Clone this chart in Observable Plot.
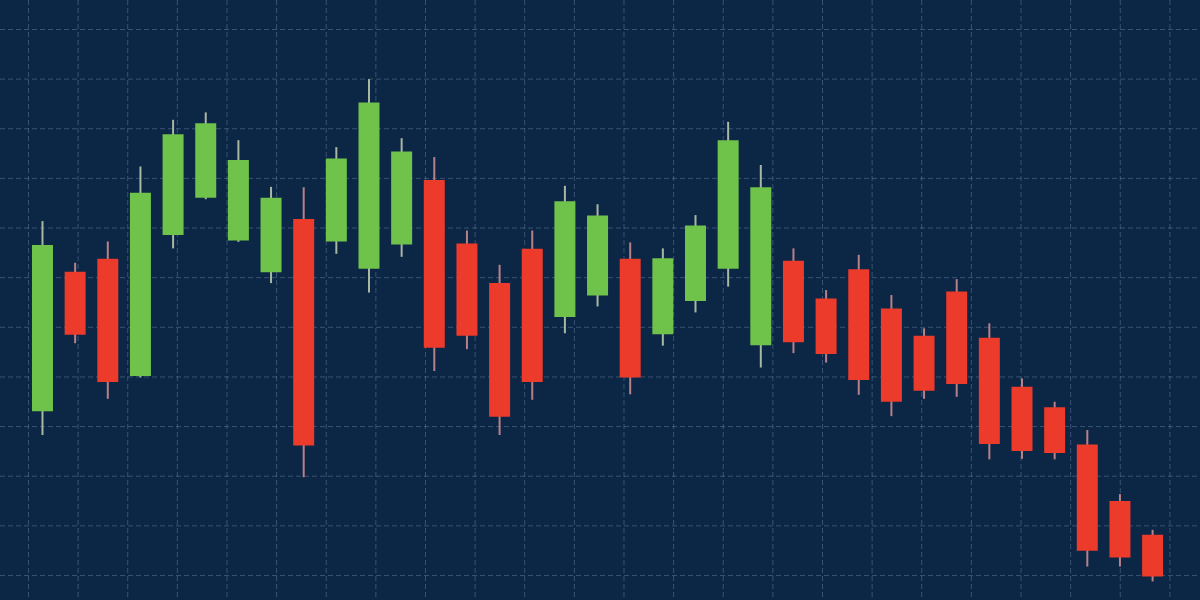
<!DOCTYPE html>
<html>
<head>
<meta charset="utf-8">
<script src="https://cdn.jsdelivr.net/npm/d3@7"></script>
<script src="https://cdn.jsdelivr.net/npm/@observablehq/plot@0.6"></script>
<style>
  html, body { margin: 0; padding: 0; background: #0c2646; overflow: hidden; }
  #chart svg { display: block; }
</style>
</head>
<body>
<div id="chart"></div>
<script>
// Candle values (arbitrary price units)
const openPrices  = [43.0, 71.1, 73.7, 50.1, 78.5, 86.0, 77.4, 71.0, 81.7, 77.2, 71.7, 76.6, 89.6, 76.8, 68.8, 75.7, 62.0, 66.3, 73.7, 58.5, 65.2, 71.7, 56.3, 73.3, 65.7, 71.6, 63.7, 58.2, 67.1, 57.8, 47.9, 43.8, 36.3, 24.9, 18.1];
const closePrices = [76.5, 58.4, 48.9, 87.0, 98.8, 101.0, 93.6, 86.0, 36.1, 93.9, 105.2, 95.3, 55.8, 58.2, 41.9, 48.9, 85.3, 82.4, 49.8, 73.8, 80.4, 97.6, 88.1, 56.9, 54.5, 49.3, 44.9, 47.1, 48.5, 36.4, 35.0, 34.6, 14.9, 13.5, 9.7];
const highPrices  = [81.3, 72.9, 77.2, 92.3, 101.7, 103.2, 97.6, 88.2, 88.1, 96.2, 109.9, 98.0, 94.2, 79.4, 72.5, 79.4, 88.4, 84.7, 77.0, 75.8, 82.5, 101.3, 92.6, 75.8, 67.4, 74.5, 66.4, 59.7, 69.6, 60.7, 49.6, 44.9, 39.2, 26.3, 19.1];
const lowPrices   = [38.2, 56.7, 45.5, 49.8, 75.8, 85.7, 77.1, 68.8, 29.7, 74.7, 66.9, 74.1, 51.1, 55.5, 38.2, 45.3, 58.7, 64.1, 46.4, 56.2, 62.9, 68.1, 51.8, 54.7, 52.8, 46.3, 42.0, 45.5, 45.9, 33.3, 33.4, 33.3, 11.7, 11.7, 8.7];

// Horizontal grid levels
const yGrid = [10, 20, 30, 40, 50, 60, 70, 80, 90, 100, 110, 120];
// Vertical grid lines: every ~1.52 candles
const xGridStart = -0.43, xGridStep = 1.52, xGridCount = 24;
const xGrid = d3.range(xGridCount).map(k => xGridStart + k * xGridStep);

const candles = openPrices.map((o, i) => ({
  i,
  open: o,
  close: closePrices[i],
  high: highPrices[i],
  low: lowPrices[i],
  up: closePrices[i] >= o
}));

const chart = Plot.plot({
  width: 1200,
  height: 600,
  margin: 0,
  style: { background: "#0c2646", overflow: "hidden" },
  x: { domain: [-1.286, 35.467], axis: null },
  y: { domain: [4.96, 125.84], axis: null },
  marks: [
    Plot.gridX(xGrid, { stroke: "#6f8aa8", strokeOpacity: 0.45, strokeDasharray: "5,3", strokeWidth: 1 }),
    Plot.gridY(yGrid, { stroke: "#6f8aa8", strokeOpacity: 0.45, strokeDasharray: "5,3", strokeWidth: 1 }),
    Plot.ruleX(candles, {
      x: "i", y1: "low", y2: "high",
      stroke: d => d.up ? "#a8b8a2" : "#b88089",
      strokeWidth: 2
    }),
    Plot.ruleX(candles, {
      x: "i", y1: "open", y2: "close",
      stroke: d => d.up ? "#6fc24a" : "#ec3a2b",
      strokeWidth: 21
    })
  ]
});

document.getElementById("chart").appendChild(chart);
</script>
</body>
</html>
